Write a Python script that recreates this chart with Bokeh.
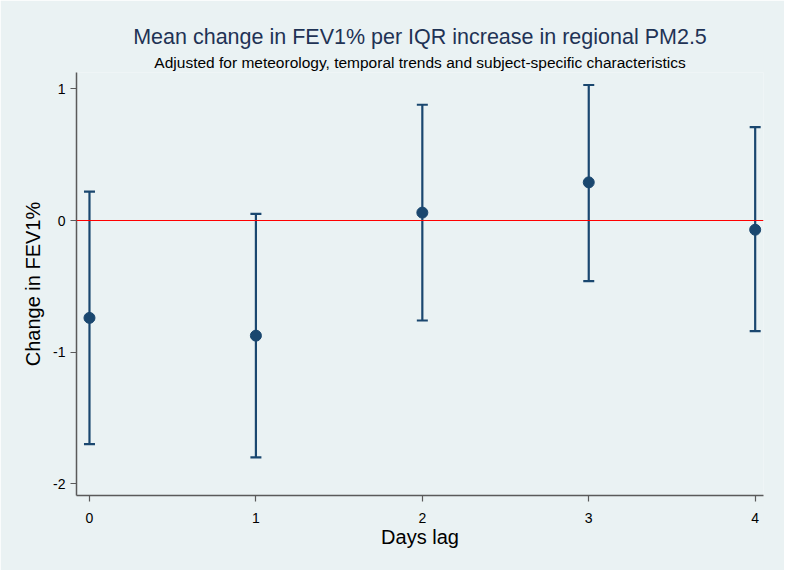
from bokeh.plotting import figure
from bokeh.models import Range1d, Title, Whisker, TeeHead, ColumnDataSource, FixedTicker, Span
from bokeh.embed import file_html
from bokeh.resources import INLINE

lags = [0, 1, 2, 3, 4]
means = [-0.74, -0.875, 0.06, 0.29, -0.07]
lower = [-1.70, -1.80, -0.76, -0.46, -0.84]
upper = [0.22, 0.05, 0.88, 1.03, 0.71]
x_ticks = [0, 1, 2, 3, 4]
y_ticks = [-2, -1, 0, 1]
y_tick_labels = ["-2", "-1", "0", "1"]

BG = "#EAF2F3"
NAVY = "#1A476F"
FONT = "Liberation Sans"

p = figure(width=784, height=570, output_backend="svg", toolbar_location=None,
           x_range=Range1d(-0.078, 4.05), y_range=Range1d(-2.09, 1.125),
           background_fill_color=BG, border_fill_color=BG,
           min_border_left=76, min_border_right=21, min_border_top=72, min_border_bottom=75)
p.outline_line_color = None
p.grid.visible = False

p.add_layout(Title(text="Adjusted for meteorology, temporal trends and subject-specific characteristics",
                   align="center", text_font=FONT, text_font_size="15.5px", text_font_style="normal",
                   text_color="black", standoff=3), "above")
p.add_layout(Title(text="Mean change in FEV1% per IQR increase in regional PM2.5",
                   align="center", text_font=FONT, text_font_size="21.5px", text_font_style="normal",
                   text_color="#1F3355", standoff=3), "above")

src = ColumnDataSource(dict(x=lags, m=means, lo=lower, hi=upper))

p.add_layout(Span(location=0, dimension="width", line_color="red", line_width=1.2))

w = Whisker(base="x", upper="hi", lower="lo", source=src, line_color=NAVY, line_width=2.2,
            upper_head=TeeHead(size=11, line_color=NAVY, line_width=2.2),
            lower_head=TeeHead(size=11, line_color=NAVY, line_width=2.2))
p.add_layout(w)
p.scatter("x", "m", source=src, size=11, color=NAVY)

for ax in (p.xaxis[0], p.yaxis[0]):
    ax.axis_line_color = "#5a5a5a"
    ax.axis_line_width = 1.5
    ax.major_tick_line_color = "#5a5a5a"
    ax.major_tick_line_width = 1.2
    ax.major_tick_out = 6
    ax.major_tick_in = 0
    ax.minor_tick_line_color = None
    ax.major_label_text_font = FONT
    ax.major_label_text_font_size = "14px"
    ax.major_label_text_color = "black"
    ax.axis_label_text_font = FONT
    ax.axis_label_text_font_size = "20px"
    ax.axis_label_text_font_style = "normal"
    ax.axis_label_text_color = "black"

p.xaxis.ticker = FixedTicker(ticks=x_ticks)
p.yaxis.ticker = FixedTicker(ticks=y_ticks)
p.yaxis.major_label_overrides = {t: s for t, s in zip(y_ticks, y_tick_labels)}
p.yaxis.major_label_orientation = "horizontal"
p.xaxis.axis_label = "Days lag"
p.yaxis.axis_label = "Change in FEV1%"
p.xaxis.axis_label_standoff = 0
p.yaxis.axis_label_standoff = 6
p.xaxis.major_label_standoff = 11
p.yaxis.major_label_standoff = 5

open("out.html", "w").write(file_html(p, INLINE))
